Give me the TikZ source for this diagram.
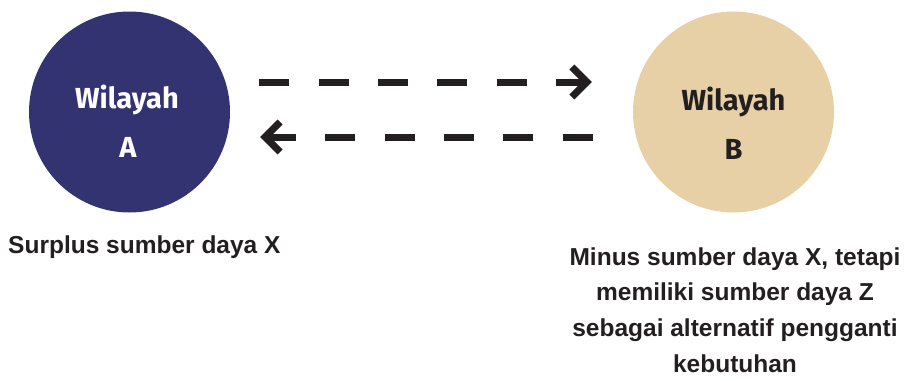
\documentclass[tikz,border=0pt]{standalone}
\usepackage{fontspec}
\setmainfont{Liberation Sans}
\newfontfamily\labelfont{Fira Sans}
\usetikzlibrary{arrows.meta}
\definecolor{navy}{HTML}{343372}
\definecolor{sand}{HTML}{E8D0A6}
\definecolor{ink}{HTML}{231F20}
\tikzset{
  region/.style={circle, minimum size=201pt, inner sep=0pt, draw=none},
  regiontext/.style={anchor=base, inner sep=0pt, font=\labelfont\bfseries\fontsize{29}{32}\selectfont},
  caption/.style={inner sep=0pt, text=ink, font=\bfseries\fontsize{24.5}{35.6}\selectfont},
  flow/.style={draw=ink, line width=7pt, line cap=butt,
    dash pattern=on 30pt off 29.4pt,
    -{Straight Barb[length=15pt, width=30pt, line join=miter, line cap=butt]}},
}
\begin{document}
\begin{tikzpicture}[x=1pt, y=-1pt]
  \useasboundingbox (0,0) rectangle (907,380);

  % the two regions
  \node[region, fill=navy] (A) at (129.5,112) {};
  \node[region, fill=sand] (B) at (733.5,112) {};

  \node[regiontext, text=white] (wa) at (127,108) {Wilayah};
  \node[regiontext, text=white] (la) at (128,157) {A};
  \node[regiontext, text=ink] (wb) at (733.5,110) {Wilayah};
  \node[regiontext, text=ink] (lb) at (733.5,159) {B};

  % exchange in both directions
  \draw[flow, shorten <=29pt, shorten >=41pt]
    ([yshift=30pt]A.east) -- ([yshift=30pt]B.west);
  \draw[flow, shorten <=40pt, shorten >=30pt]
    ([yshift=-25pt]B.west) -- ([yshift=-25pt]A.east);

  % descriptions
  \node[caption, anchor=base west] (da) at (8,253) {Surplus sumber daya X};
  \node[caption, anchor=base, align=center] (db) at (735,372)
    {Minus sumber daya X, tetapi\\ memiliki sumber daya Z\\ sebagai alternatif pengganti\\ kebutuhan};
\end{tikzpicture}
\end{document}
